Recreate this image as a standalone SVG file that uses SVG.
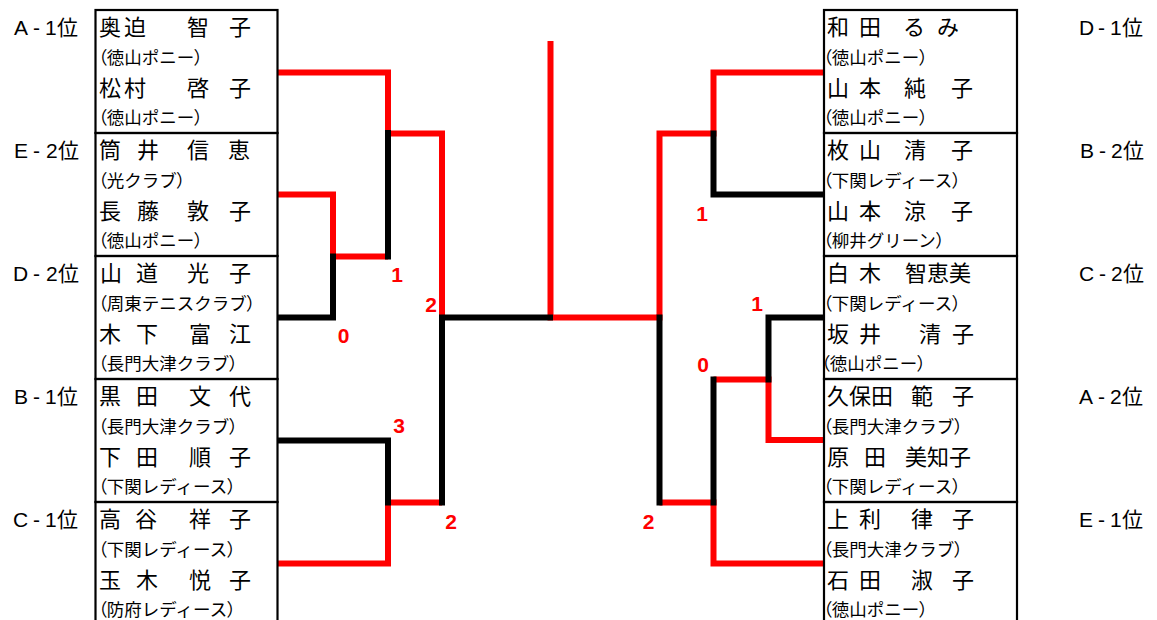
<svg xmlns="http://www.w3.org/2000/svg" width="1157" height="620" viewBox="0 0 1157 620">
<style>
.box{fill:none;stroke:#000;stroke-width:2.2}
.nm{font-family:"Noto Sans CJK JP",sans-serif;font-size:22px;fill:#000}
.cl{font-family:"Noto Sans CJK JP",sans-serif;font-size:17.5px;fill:#000}
.p{font-feature-settings:"palt"}
.rk{font-family:"Liberation Sans","Noto Sans CJK JP",sans-serif;font-size:21px;fill:#000}
.sc{font-family:"Liberation Sans",Arial,sans-serif;font-size:21px;font-weight:bold;fill:#ff0000;text-anchor:middle}
.r{fill:none;stroke:#ff0000;stroke-width:6;stroke-linejoin:miter}
.k{fill:none;stroke:#000;stroke-width:6;stroke-linejoin:miter}
</style>
<rect width="1157" height="620" fill="#fff"/>

<g id="connectors">
<path class="r" d="M278,72.5 H388 V133.5 H442 V317.5"/>
<path class="r" d="M278,194.5 H333 V256.5 H388"/>
<path class="r" d="M278,563.5 H388 V502.5 H442"/>
<path class="r" d="M550.5,41 V317.5 H659.5 V133.5 H713.5 V72.5 H824"/>
<path class="r" d="M824,440 H768.5 V379.5 H713.5"/>
<path class="r" d="M824,563.5 H713.5 V502.5 H659.5"/>
<path class="k" d="M388,130 V259.5"/>
<path class="k" d="M278,317.5 H333 V253.5"/>
<path class="k" d="M553,317.5 H442 V505.5"/>
<path class="k" d="M278,440.5 H388 V505.5"/>
<path class="k" d="M824,194.5 H713.5 V130.5"/>
<path class="k" d="M659.5,314.5 V505.5"/>
<path class="k" d="M824,317.5 H768.5 V382.5"/>
<path class="k" d="M713.5,376.5 V505.5"/>
</g>

<g id="scores">
<text class="sc" x="397" y="282">1</text>
<text class="sc" x="431" y="311.5">2</text>
<text class="sc" x="343.5" y="343">0</text>
<text class="sc" x="399" y="433">3</text>
<text class="sc" x="451" y="529">2</text>
<text class="sc" x="702" y="220.5">1</text>
<text class="sc" x="757" y="310.5">1</text>
<text class="sc" x="703" y="372">0</text>
<text class="sc" x="648.5" y="528.5">2</text>
</g>

<g id="L1">
<rect class="box" x="95.5" y="10" width="182" height="123"/>
<text class="rk" x="14 33 45 57" y="35">A-1位</text>
<text class="nm" y="35.3"><tspan x="99">奥 </tspan><tspan x="124">迫 </tspan><tspan x="187">智 </tspan><tspan x="229">子</tspan></text>
<text class="cl" x="98" y="64"><tspan class="p">（</tspan>徳山ポニー<tspan class="p">）</tspan></text>
<text class="nm" y="96.3"><tspan x="99">松 </tspan><tspan x="124">村 </tspan><tspan x="187">啓 </tspan><tspan x="229">子</tspan></text>
<text class="cl" x="98" y="124"><tspan class="p">（</tspan>徳山ポニー<tspan class="p">）</tspan></text>
</g>
<g id="L2">
<rect class="box" x="95.5" y="133" width="182" height="123"/>
<text class="rk" x="14 33 46 58" y="158">E-2位</text>
<text class="nm" y="158.3"><tspan x="99">筒 </tspan><tspan x="137">井 </tspan><tspan x="187">信 </tspan><tspan x="228">恵</tspan></text>
<text class="cl" x="98" y="187"><tspan class="p">（</tspan>光クラブ<tspan class="p">）</tspan></text>
<text class="nm" y="219.3"><tspan x="99">長 </tspan><tspan x="137">藤 </tspan><tspan x="187">敦 </tspan><tspan x="229">子</tspan></text>
<text class="cl" x="98" y="247"><tspan class="p">（</tspan>徳山ポニー<tspan class="p">）</tspan></text>
</g>
<g id="L3">
<rect class="box" x="95.5" y="256" width="182" height="123"/>
<text class="rk" x="13 33 46 58" y="281">D-2位</text>
<text class="nm" y="281.3"><tspan x="100">山 </tspan><tspan x="136">道 </tspan><tspan x="187">光 </tspan><tspan x="229">子</tspan></text>
<text class="cl" x="98" y="310"><tspan class="p">（</tspan>周東テニスクラブ<tspan class="p">）</tspan></text>
<text class="nm" y="342.3"><tspan x="99">木 </tspan><tspan x="136">下 </tspan><tspan x="189">富 </tspan><tspan x="229">江</tspan></text>
<text class="cl" x="98" y="370"><tspan class="p">（</tspan>長門大津クラブ<tspan class="p">）</tspan></text>
</g>
<g id="L4">
<rect class="box" x="95.5" y="379" width="182" height="123"/>
<text class="rk" x="14 33 45 57" y="404">B-1位</text>
<text class="nm" y="404.3"><tspan x="99">黒 </tspan><tspan x="136">田 </tspan><tspan x="189">文 </tspan><tspan x="229">代</tspan></text>
<text class="cl" x="98" y="433"><tspan class="p">（</tspan>長門大津クラブ<tspan class="p">）</tspan></text>
<text class="nm" y="465.3"><tspan x="99">下 </tspan><tspan x="136">田 </tspan><tspan x="189">順 </tspan><tspan x="229">子</tspan></text>
<text class="cl" x="98" y="493"><tspan class="p">（</tspan>下関レディース<tspan class="p">）</tspan></text>
</g>
<g id="L5">
<rect class="box" x="95.5" y="502" width="182" height="123"/>
<text class="rk" x="13 33 45 57" y="527">C-1位</text>
<text class="nm" y="527.3"><tspan x="99">高 </tspan><tspan x="135">谷 </tspan><tspan x="189">祥 </tspan><tspan x="229">子</tspan></text>
<text class="cl" x="98" y="556"><tspan class="p">（</tspan>下関レディース<tspan class="p">）</tspan></text>
<text class="nm" y="588.3"><tspan x="99">玉 </tspan><tspan x="136">木 </tspan><tspan x="189">悦 </tspan><tspan x="229">子</tspan></text>
<text class="cl" x="98" y="616"><tspan class="p">（</tspan>防府レディース<tspan class="p">）</tspan></text>
</g>

<g id="R1">
<rect class="box" x="824" y="10" width="193" height="123"/>
<text class="rk" x="1079 1098 1110 1122" y="35">D-1位</text>
<text class="nm" y="35.3"><tspan x="827">和 </tspan><tspan x="859">田 </tspan><tspan x="903">る </tspan><tspan x="937">み</tspan></text>
<text class="cl" x="823" y="64"><tspan class="p">（</tspan>徳山ポニー<tspan class="p">）</tspan></text>
<text class="nm" y="96.3"><tspan x="827">山 </tspan><tspan x="859">本 </tspan><tspan x="904">純 </tspan><tspan x="951">子</tspan></text>
<text class="cl" x="823" y="124"><tspan class="p">（</tspan>徳山ポニー<tspan class="p">）</tspan></text>
</g>
<g id="R2">
<rect class="box" x="824" y="133" width="193" height="123"/>
<text class="rk" x="1080 1099 1111 1123" y="158">B-2位</text>
<text class="nm" y="158.3"><tspan x="827">枚 </tspan><tspan x="859">山 </tspan><tspan x="904">清 </tspan><tspan x="951">子</tspan></text>
<text class="cl" x="823" y="187"><tspan class="p">（</tspan>下関レディース<tspan class="p">）</tspan></text>
<text class="nm" y="219.3"><tspan x="827">山 </tspan><tspan x="859">本 </tspan><tspan x="904">涼 </tspan><tspan x="951">子</tspan></text>
<text class="cl" x="823" y="247"><tspan class="p">（</tspan>柳井グリーン<tspan class="p">）</tspan></text>
</g>
<g id="R3">
<rect class="box" x="824" y="256" width="193" height="123"/>
<text class="rk" x="1079 1099 1111 1123" y="281">C-2位</text>
<text class="nm" y="281.3"><tspan x="827">白 </tspan><tspan x="859">木 </tspan><tspan x="905">智恵美</tspan></text>
<text class="cl" x="823" y="310"><tspan class="p">（</tspan>下関レディース<tspan class="p">）</tspan></text>
<text class="nm" y="342.3"><tspan x="827">坂 </tspan><tspan x="859">井 </tspan><tspan x="919">清 </tspan><tspan x="952">子</tspan></text>
<text class="cl" x="821" y="370"><tspan class="p">（</tspan>徳山ポニー<tspan class="p">）</tspan></text>
</g>
<g id="R4">
<rect class="box" x="824" y="379" width="193" height="123"/>
<text class="rk" x="1079 1098 1110 1122" y="404">A-2位</text>
<text class="nm" y="404.3"><tspan x="827">久保田 </tspan><tspan x="911">範 </tspan><tspan x="952">子</tspan></text>
<text class="cl" x="823" y="433"><tspan class="p">（</tspan>長門大津クラブ<tspan class="p">）</tspan></text>
<text class="nm" y="465.3"><tspan x="827">原 </tspan><tspan x="864">田 </tspan><tspan x="905">美知子</tspan></text>
<text class="cl" x="823" y="493"><tspan class="p">（</tspan>下関レディース<tspan class="p">）</tspan></text>
</g>
<g id="R5">
<rect class="box" x="824" y="502" width="193" height="123"/>
<text class="rk" x="1079 1098 1110 1122" y="527">E-1位</text>
<text class="nm" y="527.3"><tspan x="827">上 </tspan><tspan x="859">利 </tspan><tspan x="911">律 </tspan><tspan x="952">子</tspan></text>
<text class="cl" x="823" y="556"><tspan class="p">（</tspan>長門大津クラブ<tspan class="p">）</tspan></text>
<text class="nm" y="588.3"><tspan x="827">石 </tspan><tspan x="859">田 </tspan><tspan x="911">淑 </tspan><tspan x="952">子</tspan></text>
<text class="cl" x="823" y="616"><tspan class="p">（</tspan>徳山ポニー<tspan class="p">）</tspan></text>
</g>
</svg>
